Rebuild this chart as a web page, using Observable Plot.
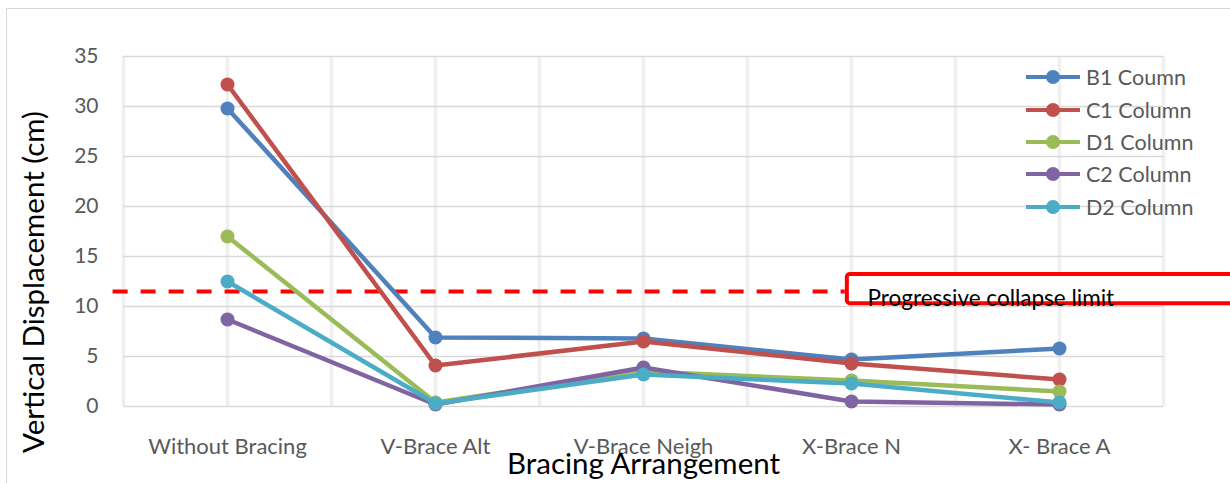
<!DOCTYPE html>
<html>
<head>
<meta charset="utf-8">
<script src="https://cdn.jsdelivr.net/npm/d3@7"></script>
<script src="https://cdn.jsdelivr.net/npm/@observablehq/plot@0.6"></script>
<style>
  html, body { margin: 0; padding: 0; background: #fff; overflow: hidden; }
  #wrap { position: relative; width: 1230px; height: 483px; overflow: hidden; font-family: Lato, "Noto Sans", sans-serif; }
  #frame { position: absolute; left: 6px; top: 8px; width: 1240px; height: 500px; border: 1.5px solid #d9d9d9; box-sizing: border-box; }
  #chart { position: absolute; left: 0; top: 0; }
  #legend { position: absolute; left: 1026px; top: 61px; }
  .row { display: flex; align-items: center; height: 32.4px; }
  .row span { font-size: 21.5px; color: #595959; margin-left: 6px; white-space: nowrap; }
  #ytitle { position: absolute; left: 33px; top: 282px; transform: translate(-50%, -50%) rotate(-90deg); font-size: 29.5px; color: #000; white-space: nowrap; line-height: 1; }
</style>
</head>
<body>
<div id="wrap">
  <div id="frame"></div>
  <div id="chart"></div>
  <div id="legend"></div>
  <div id="ytitle"></div>
</div>
<script>
const categories = ["Without Bracing", "V-Brace Alt", "V-Brace Neigh", "X-Brace N", "X- Brace A"];
const seriesNames = ["B1 Coumn", "C1 Column", "D1 Column", "C2 Column", "D2 Column"];
const seriesColors = ["#4F81BD", "#C0504D", "#9BBB59", "#8064A2", "#4BACC6"];
const b1 = [29.8, 6.9, 6.8, 4.7, 5.8];
const c1 = [32.2, 4.1, 6.5, 4.3, 2.7];
const d1 = [17.0, 0.4, 3.5, 2.6, 1.5];
const c2 = [8.7, 0.2, 3.9, 0.5, 0.2];
const d2 = [12.5, 0.3, 3.2, 2.3, 0.4];
const yTicks = [0, 5, 10, 15, 20, 25, 30, 35];
const limitValue = 11.5;
const limitLabel = "Progressive collapse limit";
const yTitle = "Vertical Displacement (cm)";
const xTitle = "Bracing Arrangement";

const seriesValues = [b1, c1, d1, c2, d2];
const rows = seriesNames.flatMap((s, k) => seriesValues[k].map((v, i) => ({series: s, i, v})));

const seriesMarks = seriesNames.flatMap(s => {
  const data = rows.filter(d => d.series === s);
  return [
    Plot.line(data, {x: "i", y: "v", stroke: "series", strokeWidth: 4.5, strokeLinejoin: "round"}),
    Plot.dot(data, {x: "i", y: "v", fill: "series", r: 7, stroke: null})
  ];
});

const plot = Plot.plot({
  width: 1230,
  height: 483,
  marginLeft: 123,
  marginRight: 67,
  marginTop: 56,
  marginBottom: 77,
  style: {fontFamily: "Lato, 'Noto Sans', sans-serif", background: "transparent", overflow: "hidden"},
  x: {domain: [-0.5, categories.length - 0.5], axis: null},
  y: {domain: [0, 35], axis: null},
  color: {domain: seriesNames, range: seriesColors},
  marks: [
    Plot.ruleX(d3.range(-0.5, categories.length - 0.49, 0.5), {y1: 0, y2: 35, stroke: "#efefef", strokeWidth: 3.5}),
    Plot.ruleY(yTicks, {x1: -0.5, x2: categories.length - 0.5, stroke: "#d9d9d9", strokeWidth: 1.6}),
    Plot.axisY({ticks: yTicks, tickSize: 0, tickPadding: 25, fontSize: 21, fill: "#595959", label: null}),
    Plot.axisX({ticks: d3.range(categories.length), tickFormat: i => categories[i], tickSize: 0, tickPadding: 32, fontSize: 22, fill: "#595959", label: null}),
    Plot.ruleY([limitValue], {x1: -0.55, x2: 2.97, stroke: "#ff0000", strokeWidth: 4, strokeDasharray: "15,13"}),
    ...seriesMarks,
    Plot.rect([limitValue], {x1: 2.98, x2: 5.2, y1: 10.27, y2: 13.2, fill: "white", stroke: "#ff0000", strokeWidth: 4, rx: 3}),
    Plot.text([limitLabel], {x: 3.077, y: 10.8, text: d => d, textAnchor: "start", lineAnchor: "middle", fontSize: 22.5, fill: "#000"}),
    Plot.text([xTitle], {frameAnchor: "bottom", text: d => d, dy: 58.5, fontSize: 29.5, fill: "#000", lineAnchor: "middle"})
  ]
});
document.getElementById("chart").appendChild(plot);
document.getElementById("ytitle").textContent = yTitle;

const legend = d3.select("#legend");
seriesNames.forEach((s, k) => {
  const row = legend.append("div").attr("class", "row");
  const svg = row.append("svg").attr("width", 54).attr("height", 16);
  svg.append("line").attr("x1", 0).attr("x2", 54).attr("y1", 8).attr("y2", 8)
    .attr("stroke", seriesColors[k]).attr("stroke-width", 4).attr("stroke-linecap", "round");
  svg.append("circle").attr("cx", 27).attr("cy", 8).attr("r", 7).attr("fill", seriesColors[k]);
  row.append("span").text(s);
});
</script>
</body>
</html>
